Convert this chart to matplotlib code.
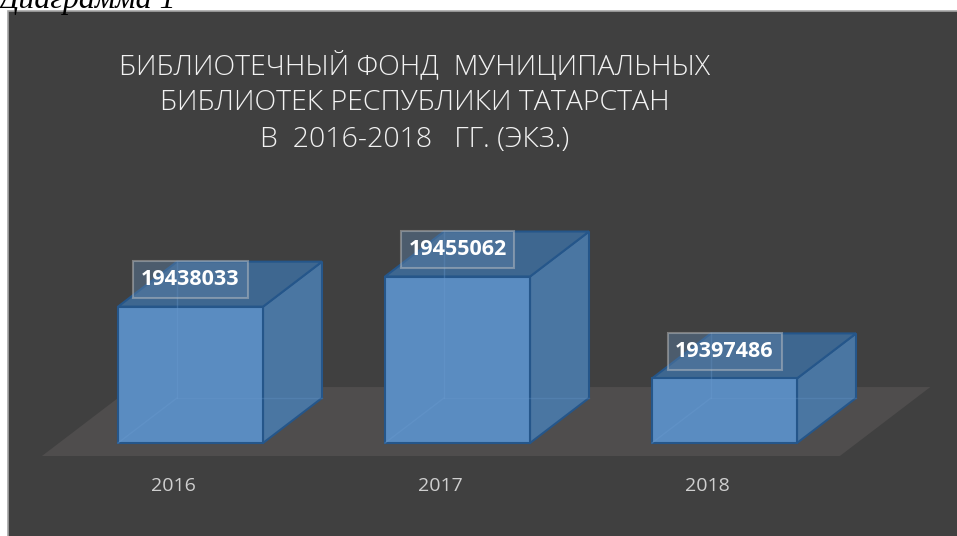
import matplotlib.pyplot as plt
from matplotlib.patches import Polygon, Rectangle

# chart data
years = ['2016', '2017', '2018']
fund = [19438033, 19455062, 19397486]
title_lines = ['БИБЛИОТЕЧНЫЙ ФОНД  МУНИЦИПАЛЬНЫХ',
               'БИБЛИОТЕК РЕСПУБЛИКИ ТАТАРСТАН',
               'В  2016-2018   ГГ. (ЭКЗ.)']
caption = 'Диаграмма 1'

# colours
BG = '#404040'
FLOOR = '#4f4d4d'
FRONT = '#5a8cc1'
SIDE = '#4a76a2'
TOP = '#3e6790'
EDGE = '#25568a'

W, H = 957, 536
fig = plt.figure(figsize=(W / 100, H / 100), dpi=100, facecolor='white')

# dark chart area with light border
fig.patches.append(Rectangle((8 / W, -0.01), 1.0, (H - 11) / H + 0.01,
                             transform=fig.transFigure, facecolor=BG,
                             edgecolor='#a6a6a6', lw=1.2, zorder=-1))
fig.text(-2 / W, 1 - 8 / H, caption, family='Liberation Serif', style='italic',
         fontsize=23, color='black', ha='left', va='baseline')

ax = fig.add_axes([0, 0, 1, 1])
ax.set_axis_off()
ax.set_zorder(1)

# value scale: 565 units per pixel, base of the bars at 19 361 000
axis_min = 19361000
per_px = 565
cat_px = 267
ax.set_xlim(-190.5 / cat_px, (W - 190.5) / cat_px)
ax.set_ylim(axis_min - 93 * per_px, axis_min + (H - 93) * per_px)

# 3d depth offsets (category units / value units)
DX = 59 / cat_px
DY = 45 * per_px
half = 72.5 / cat_px


def proj(x, v, d):
    return (x + d * DX, v + d * DY)


# floor
f0, f1 = -0.289, 1.244
fl, fr = -0.4925, 2.496
floor = [proj(fl, axis_min, f0), proj(fr, axis_min, f0),
         proj(fr, axis_min, f1), proj(fl, axis_min, f1)]
ax.add_patch(Polygon(floor, closed=True, facecolor=FLOOR, edgecolor='none', zorder=1))

for i, (yr, val) in enumerate(zip(years, fund)):
    x0, x1 = i - half, i + half
    side = [proj(x1, axis_min, 0), proj(x1, axis_min, 1),
            proj(x1, val, 1), proj(x1, val, 0)]
    top = [proj(x0, val, 0), proj(x1, val, 0), proj(x1, val, 1), proj(x0, val, 1)]
    front = [proj(x0, axis_min, 0), proj(x1, axis_min, 0),
             proj(x1, val, 0), proj(x0, val, 0)]
    ax.add_patch(Polygon(side, closed=True, facecolor=SIDE, edgecolor=EDGE, lw=1.5, zorder=2))
    ax.add_patch(Polygon(top, closed=True, facecolor=TOP, edgecolor=EDGE, lw=1.5, zorder=2))
    ax.add_patch(Polygon(front, closed=True, facecolor=FRONT, edgecolor=EDGE, lw=1.5, zorder=3))
    # faint hidden edges seen through the box
    bx, by = proj(x0, axis_min, 1)
    tx, ty = proj(x0, val, 1)
    ax.plot([bx, tx], [by, ty], color='#6a9bd0', lw=1, alpha=0.35, zorder=4)
    fx, fy = proj(x0, axis_min, 0)
    ax.plot([fx, bx], [fy, by], color='#6a9bd0', lw=1, alpha=0.35, zorder=4)
    rx, ry = proj(x1, axis_min, 1)
    ax.plot([bx, rx], [by, ry], color='#6a9bd0', lw=1, alpha=0.25, zorder=4)

    # value label
    ax.annotate(f'{val}', xy=(i, val), xytext=(0, 19.4), textcoords='offset points',
                ha='center', va='center', fontsize=15.5, fontweight='bold',
                family='Open Sans', color='white', zorder=6,
                bbox=dict(boxstyle='square,pad=0.36', facecolor='#5b7fa6',
                          alpha=0.45, edgecolor='#c8c8c8', lw=1.5))
    # category label at the front edge of the floor
    ax.annotate(yr, xy=proj(i, axis_min, f0), xytext=(0, -21.6),
                textcoords='offset points', ha='center', va='center',
                fontsize=14, family='Open Sans', color='#cfcfcf')

# title, every line centred on the same axis
title_y = [67, 103, 140]
for line, py in zip(title_lines, title_y):
    fig.text(415 / W, 1 - py / H, line, ha='center', va='center', fontsize=20.5,
             family='Open Sans', fontweight='light', color='#f2f2f2')

fig.savefig('out.png', dpi=100, facecolor='white')
